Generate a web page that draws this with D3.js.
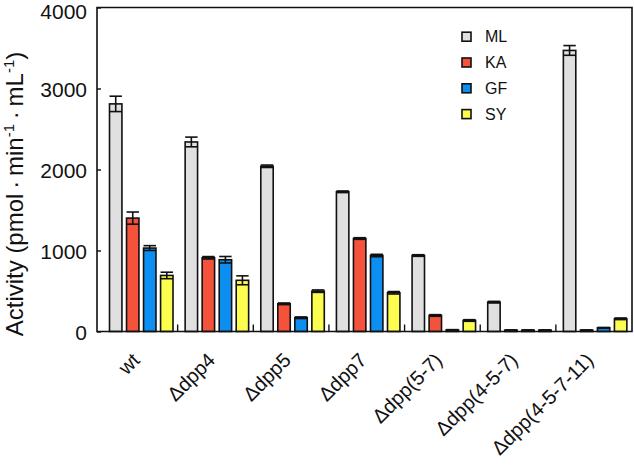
<!DOCTYPE html>
<html><head><meta charset="utf-8">
<script src="https://cdn.jsdelivr.net/npm/d3@7"></script>
<style>html,body{margin:0;padding:0;background:#fff;} svg{display:block;}</style>
</head><body>
<svg id="c" width="634" height="465"></svg>
<script>
const groups = ["wt","\u0394dpp4","\u0394dpp5","\u0394dpp7","\u0394dpp(5-7)","\u0394dpp(4-5-7)","\u0394dpp(4-5-7-11)"];
const seriesNames = ["ML","KA","GF","SY"];
const ML = [2810, 2340, 2040, 1725, 938, 362, 3470];
const KA = [1400, 910, 342, 1148, 198, 15, 15];
const GF = [1030, 886, 170, 938, 18, 15, 45];
const SY = [692, 632, 498, 478, 136, 15, 157];
const ML_err = [95, 60, 15, 10, 10, 10, 60];
const KA_err = [75, 15, 10, 10, 10, 5, 5];
const GF_err = [30, 40, 10, 15, 5, 5, 5];
const SY_err = [40, 55, 15, 15, 10, 5, 10];
const yTicks = [0, 1000, 2000, 3000, 4000];
const colors = ["#e0e0e0", "#f4523b", "#0d8ff2", "#fdfd4f"];

(function () {
const values = [ML, KA, GF, SY];
const errs = [ML_err, KA_err, GF_err, SY_err];

const svg = d3.select("#c");
const font = "Arial, 'Liberation Sans', Helvetica, sans-serif";
const pl = 97, pr = 632, pt = 7.5, pb = 331.5;

const y = d3.scaleLinear().domain([0, 4000]).range([pb, pt]);
const x = d3.scaleBand().domain(groups).range([102, 631.5]).paddingInner(0).paddingOuter(0);
const xs = d3.scaleBand().domain(seriesNames).range([7.5, 7.5 + 63.5]).paddingInner(0.27).paddingOuter(0);

const data = [];
groups.forEach((g, gi) => seriesNames.forEach((s, si) => {
  data.push({g, s, si, v: values[si][gi], e: errs[si][gi]});
}));

const bw = xs.bandwidth();
svg.append("g").selectAll("rect").data(data).enter().append("rect")
  .attr("x", d => x(d.g) + xs(d.s))
  .attr("y", d => y(d.v))
  .attr("width", bw)
  .attr("height", d => y(0) - y(d.v))
  .attr("fill", d => colors[d.si])
  .attr("stroke", "#111")
  .attr("stroke-width", 1.6);

const eg = svg.append("g").attr("stroke", "#111").attr("stroke-width", 1.6).attr("fill", "none");
data.forEach(d => {
  const cx = x(d.g) + xs(d.s) + bw / 2;
  const hw = bw / 2;
  const y1 = y(d.v + d.e), y2 = y(Math.max(0, d.v - d.e));
  eg.append("line").attr("x1", cx).attr("x2", cx).attr("y1", y1).attr("y2", y2);
  eg.append("line").attr("x1", cx - hw).attr("x2", cx + hw).attr("y1", y1).attr("y2", y1);
  eg.append("line").attr("x1", cx - hw).attr("x2", cx + hw).attr("y1", y2).attr("y2", y2);
});

svg.append("path")
  .attr("d", `M${pl},${pt}H${pr}V${pb}H${pl}Z`)
  .attr("fill", "none").attr("stroke", "#111").attr("stroke-width", 1.6);

const yAxis = d3.axisLeft(y).tickValues(yTicks).tickSize(-4).tickPadding(10).tickFormat(d3.format("d"));
const ya = svg.append("g").attr("transform", `translate(${pl},0)`).call(yAxis);
ya.select(".domain").remove();
ya.selectAll(".tick line").attr("stroke", "#111").attr("stroke-width", 1.4);
ya.selectAll(".tick text").attr("font-family", font).attr("font-size", 21).attr("fill", "#111")
  .attr("dy", d => d === 4000 ? "0.5em" : "0.36em");

svg.append("g").selectAll("line").data(groups.slice(1)).enter().append("line")
  .attr("x1", d => x(d)).attr("x2", d => x(d))
  .attr("y1", pb).attr("y2", pb - 7)
  .attr("stroke", "#111").attr("stroke-width", 1.4);

svg.append("g").selectAll("text").data(groups).enter().append("text")
  .attr("transform", d => `translate(${x(d) + x.bandwidth() / 2 + 1},${pb + 30}) rotate(-45)`)
  .attr("text-anchor", "end")
  .attr("font-family", font).attr("font-size", 20).attr("fill", "#111")
  .text(d => d);

const yl = svg.append("text")
  .attr("transform", `translate(23,194) rotate(-90)`)
  .attr("text-anchor", "middle")
  .attr("font-family", font).attr("font-size", 24).attr("fill", "#111");
yl.append("tspan").text("Activity (pmol\u2009\u00b7\u2009min");
yl.append("tspan").attr("font-size", 15).attr("dy", -9).text("-1");
yl.append("tspan").attr("dy", 9).text("\u2009\u00b7\u2009mL");
yl.append("tspan").attr("font-size", 15).attr("dy", -9).text("-1");
yl.append("tspan").attr("dy", 9).text(")");

const lg = svg.append("g").selectAll("g").data(seriesNames).enter().append("g")
  .attr("transform", (d, i) => `translate(462,${36.7 + i * 25.8})`);
lg.append("rect").attr("x", 0).attr("y", -4.5).attr("width", 9).attr("height", 9)
  .attr("fill", (d, i) => colors[i]).attr("stroke", "#111").attr("stroke-width", 1.6);
lg.append("text").attr("x", 23).attr("y", 0).attr("dy", "0.36em")
  .attr("font-family", font).attr("font-size", 16).attr("fill", "#111")
  .text(d => d);
})();
</script>
</body></html>
